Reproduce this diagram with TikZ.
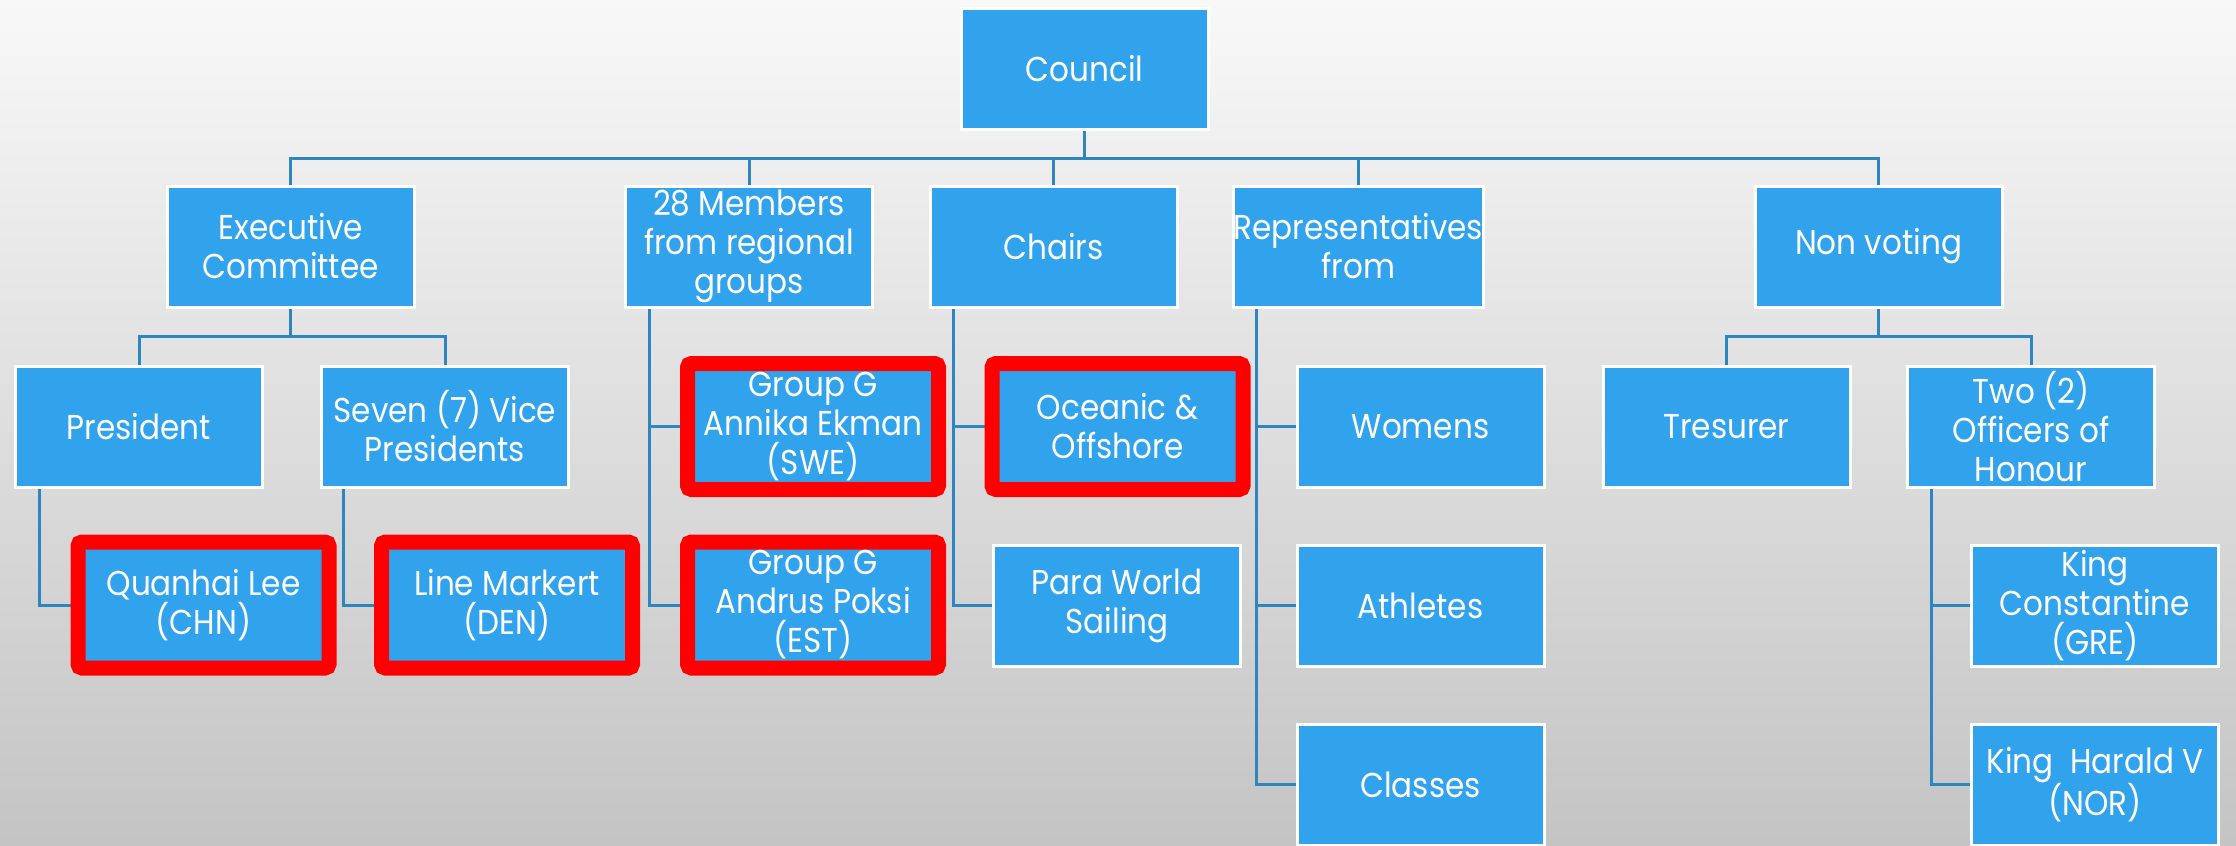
\documentclass[tikz,border=0pt]{standalone}
\usepackage{fontspec}
\setmainfont{Poppins}[FakeStretch=0.9]
\usetikzlibrary{backgrounds}
\definecolor{boxblue}{RGB}{49,163,236}
\definecolor{linkblue}{RGB}{46,134,193}
\definecolor{bgtop}{RGB}{248,248,248}
\definecolor{bgbot}{RGB}{196,196,196}
\tikzset{
  box/.style={rectangle, fill=boxblue, draw=white, line width=3pt,
    minimum width=247pt, minimum height=121pt, inner sep=0pt,
    align=center, text=white, font=\fontsize{34.5}{39}\selectfont},
  hilite/.style={box, draw=red, line width=15pt, minimum width=251pt,
    minimum height=126pt, rounded corners=4pt},
  link/.style={draw=linkblue, line width=3pt},
}
\begin{document}
\begin{tikzpicture}[x=1pt,y=-1pt]
\useasboundingbox (0,0) rectangle (2236,846);
\node[box] (council) at (1084.5,68.5) {Council};
\node[box] (exec) at (290.5,246.5) {Executive\\Committee};
\node[box] (members) at (749,246.5) {28 Members\\from regional\\groups};
\node[box] (chairs) at (1053.5,246.5) {Chairs};
\node[box] (reps) at (1358.5,246.5) {Representatives\\from};
\node[box] (nonvoting) at (1878.5,246.5) {Non voting};
\node[box] (president) at (139,426.5) {President};
\node[box] (vps) at (445,426.5) {Seven (7) Vice\\Presidents};
\node[hilite] (annika) at (813,426.5) {Group G\\Annika Ekman\\(SWE)};
\node[hilite] (oceanic) at (1117.5,426.5) {Oceanic \&\\Offshore};
\node[box] (womens) at (1420.5,426.5) {Womens};
\node[box] (tresurer) at (1726.5,426.5) {Tresurer};
\node[box] (officers) at (2031,426.5) {Two (2)\\Officers of\\Honour};
\node[hilite] (quanhai) at (203.5,605) {Quanhai Lee\\(CHN)};
\node[hilite] (markert) at (507,605) {Line Markert\\(DEN)};
\node[hilite] (andrus) at (813,605) {Group G\\Andrus Poksi\\(EST)};
\node[box] (para) at (1117,605.5) {Para World\\Sailing};
\node[box] (athletes) at (1420.5,605.5) {Athletes};
\node[box] (constantine) at (2095,605.5) {King\\Constantine\\(GRE)};
\node[box] (classes) at (1420.5,784.5) {Classes};
\node[box] (harald) at (2095,784.5) {King\ \ Harald V\\(NOR)};
\begin{scope}[on background layer]
\shade[top color=bgtop, bottom color=bgbot] (0,0) rectangle (2236,846);
\foreach \n in {exec,members,chairs,reps,nonvoting}
  \draw[link] (council.south) -- ++(0,27.5) -| (\n.north);
\foreach \n in {president,vps}
  \draw[link] (exec.south) -- ++(0,27.5) -| (\n.north);
\foreach \n in {tresurer,officers}
  \draw[link] (nonvoting.south) -- ++(0,27.5) -| (\n.north);
\draw[link] ([xshift=25pt]president.south west) |- (quanhai.west);
\draw[link] ([xshift=23pt]vps.south west) |- (markert.west);
\draw[link] ([xshift=25pt]members.south west) |- (annika.west);
\draw[link] ([xshift=25pt]members.south west) |- (andrus.west);
\draw[link] ([xshift=24.5pt]chairs.south west) |- (oceanic.west);
\draw[link] ([xshift=24.5pt]chairs.south west) |- (para.west);
\foreach \n in {womens,athletes,classes}
  \draw[link] ([xshift=24.5pt]reps.south west) |- (\n.west);
\foreach \n in {constantine,harald}
  \draw[link] ([xshift=25pt]officers.south west) |- (\n.west);
\end{scope}
\end{tikzpicture}
\end{document}
